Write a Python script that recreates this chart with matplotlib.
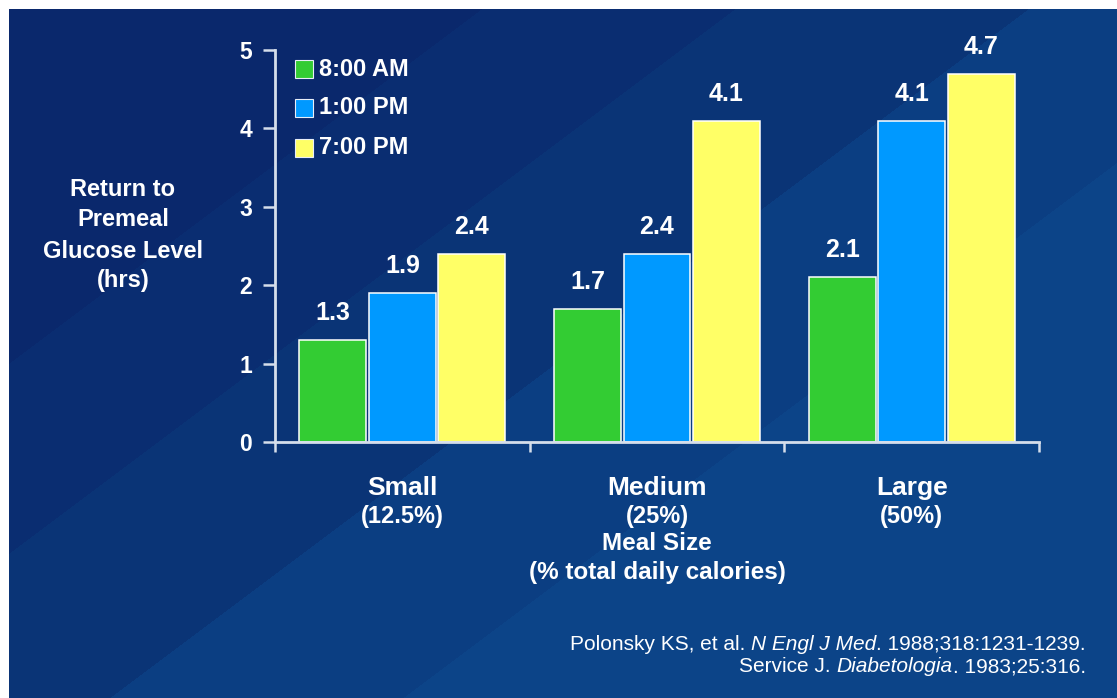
import numpy as np
import matplotlib
matplotlib.use("Agg")
import matplotlib.pyplot as plt
from matplotlib.patches import Rectangle
from matplotlib.offsetbox import TextArea, HPacker, AnnotationBbox

# ---- data -------------------------------------------------------------
categories = ["Small", "Medium", "Large"]
category_shares = ["(12.5%)", "(25%)", "(50%)"]
series_labels = ["8:00 AM", "1:00 PM", "7:00 PM"]
values_8am = [1.3, 1.7, 2.1]
values_1pm = [1.9, 2.4, 4.1]
values_7pm = [2.4, 4.1, 4.7]
yticks = [0, 1, 2, 3, 4, 5]
ylabel_lines = ["Return to", "Premeal", "Glucose Level", "(hrs)"]
xlabel_lines = ["Meal Size", "(% total daily calories)"]
citation_1 = ["Polonsky KS, et al. ", "N Engl J Med", ". 1988;318:1231-1239."]
citation_2 = ["Service J. ", "Diabetologia", ". 1983;25:316."]

series = [values_8am, values_1pm, values_7pm]
colors = ["#33cc33", "#0099ff", "#ffff66"]

plt.rcParams["font.family"] = ["Liberation Sans", "DejaVu Sans"]
plt.rcParams["font.weight"] = "bold"

W, H = 1117, 698
fig = plt.figure(figsize=(W / 100, H / 100), dpi=100)


def fx(px):
    return px / W


def fy(py):
    return 1 - py / H


# ---- slide background: navy with diagonal bands ------------------------
bg = fig.add_axes([0, 0, 1, 1], zorder=0)
yy, xx = np.mgrid[0:H, 0:W]
diag = yy + 0.75 * xx
band_edges = [370, 560, 780, 1000]
band_colors = np.array([
    [10, 40, 108],
    [10, 45, 113],
    [10, 52, 118],
    [11, 62, 130],
    [12, 68, 136],
]) / 255.0
img = band_colors[np.digitize(diag, band_edges)]
img[:9, :] = 1.0
img[:, :9] = 1.0
bg.imshow(img, aspect="auto", interpolation="nearest")
bg.axis("off")

# ---- main axes ---------------------------------------------------------
axis_color = "#d5deeb"
ax = fig.add_axes([fx(275), fy(442), fx(1039) - fx(275), fy(50) - fy(442)], zorder=1)
ax.patch.set_alpha(0)

x = np.arange(len(categories))
bar_w = 0.262
step = 0.273
for k, (vals, col) in enumerate(zip(series, colors)):
    bars = ax.bar(x + (k - 1) * step, vals, bar_w, color=col,
                  edgecolor="white", linewidth=1.1, zorder=2)
    for b, v in zip(bars, vals):
        ax.annotate(f"{v:.1f}", (b.get_x() + b.get_width() / 2, v),
                    xytext=(0, 27), textcoords="offset pixels",
                    ha="center", va="center", color="white",
                    fontsize=18, fontweight="bold")

ax.set_xlim(-0.5, 2.5)
ax.set_ylim(0, 5)
for side in ("top", "right"):
    ax.spines[side].set_visible(False)
for side in ("left", "bottom"):
    ax.spines[side].set_color(axis_color)
    ax.spines[side].set_linewidth(2)
    ax.spines[side].set_zorder(3)

ax.set_yticks(yticks)
ax.set_yticklabels([str(t) for t in yticks])
ax.tick_params(axis="y", direction="out", length=8.5, width=1.8,
               color=axis_color, pad=8, labelsize=16.5, labelcolor="white")
ax.set_xticks([-0.5, 0.5, 1.5, 2.5])
ax.set_xticklabels([])
ax.tick_params(axis="x", direction="out", length=7, width=1.8, color=axis_color)
for lbl in ax.get_yticklabels():
    lbl.set_fontweight("bold")

# category labels under each group
for i, (cat, share) in enumerate(zip(categories, category_shares)):
    ax.annotate(cat, (i, 0), xycoords=("data", "axes fraction"),
                xytext=(0, -46), textcoords="offset pixels",
                ha="center", va="center", color="white",
                fontsize=19, fontweight="bold")
    ax.annotate(share, (i, 0), xycoords=("data", "axes fraction"),
                xytext=(0, -74), textcoords="offset pixels",
                ha="center", va="center", color="white",
                fontsize=17, fontweight="bold")

for line, off in zip(xlabel_lines, (-101, -131)):
    ax.annotate(line, (1, 0), xycoords=("data", "axes fraction"),
                xytext=(0, off), textcoords="offset pixels",
                ha="center", va="center", color="white",
                fontsize=17.5, fontweight="bold")

# y-axis title, one line at a time
for line, py in zip(ylabel_lines, (190, 220, 251, 281)):
    fig.text(fx(123), fy(py), line, ha="center", va="center",
             color="white", fontsize=17, fontweight="bold")

# ---- legend ------------------------------------------------------------
for lab, col, py in zip(series_labels, colors, (69, 108, 148)):
    fig.patches.append(Rectangle((fx(295), fy(py + 9)), fx(18), 18 / H,
                                 transform=fig.transFigure, facecolor=col,
                                 edgecolor="#e8eef8", linewidth=0.8, zorder=4))
    fig.text(fx(319), fy(py), lab, ha="left", va="center", color="white",
             fontsize=17, fontweight="bold", zorder=4)


# ---- references --------------------------------------------------------
def citation(parts, py):
    boxes = []
    for j, part in enumerate(parts):
        style = "italic" if j == 1 else "normal"
        boxes.append(TextArea(part, textprops=dict(color="white", fontsize=15,
                                                   fontweight="normal",
                                                   fontstyle=style)))
    row = HPacker(children=boxes, align="baseline", pad=0, sep=0)
    ab = AnnotationBbox(row, (fx(1086), fy(py)), xycoords="figure fraction",
                        box_alignment=(1, 0.5), frameon=False, pad=0)
    fig.add_artist(ab)


citation(citation_1, 644)
citation(citation_2, 667)

fig.savefig("out.png", dpi=100)
